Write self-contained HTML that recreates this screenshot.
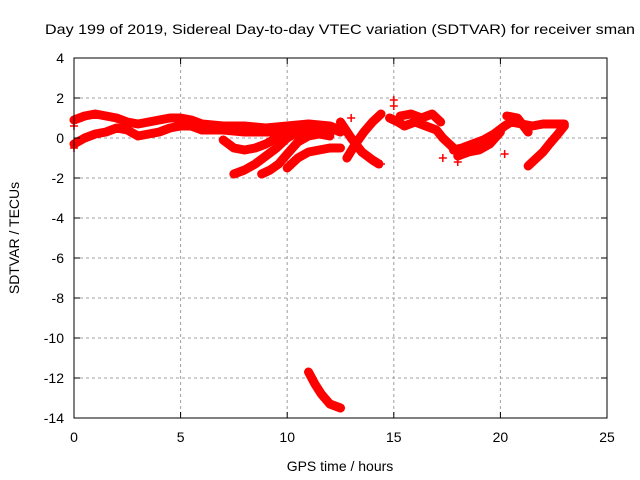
<!DOCTYPE html>
<html><head><meta charset="utf-8"><style>
html,body{margin:0;padding:0;background:#fff;}
svg{display:block;font-family:"Liberation Sans",sans-serif;}
</style></head><body>
<svg id="chart" width="640" height="480" viewBox="0 0 640 480">
<text x="45" y="34" font-size="14" textLength="590" lengthAdjust="spacingAndGlyphs">Day 199 of 2019, Sidereal Day-to-day VTEC variation (SDTVAR) for receiver sman</text>
<g id="grid"></g>
<g id="marks"></g>
<g id="axes"></g>
<text x="340" y="471" font-size="14" text-anchor="middle">GPS time / hours</text>
<text transform="translate(19,238) rotate(-90)" font-size="14" text-anchor="middle">SDTVAR / TECUs</text>
</svg>
<script>
const xTicks=[0,5,10,15,20,25];
const yTicks=[4,2,0,-2,-4,-6,-8,-10,-12,-14];
const track1H=[0,0.5,1,1.5,2,2.5,3,3.5,4,4.5,5,5.5,6,7,8,9,10,11,12,12.5];
const track1V=[0.9,1.1,1.2,1.1,1.0,0.8,0.7,0.8,0.9,1.0,1.0,0.9,0.7,0.6,0.6,0.5,0.6,0.7,0.6,0.4];
const track2H=[0,0.5,1,1.5,2,2.5,3,3.5,4,4.5,5,5.5,6,7,8,9,10,11];
const track2V=[-0.3,0.0,0.2,0.3,0.5,0.4,0.1,0.2,0.3,0.5,0.6,0.6,0.4,0.4,0.3,0.3,0.3,0.2];
const track3H=[7.5,8,8.5,9,9.5,10,10.5,11,11.5,12,12.5];
const track3V=[-1.8,-1.6,-1.3,-0.9,-0.5,0.0,0.3,0.5,0.6,0.5,0.3];
const track4H=[8.8,9.2,9.6,10,10.5,11,11.5,12];
const track4V=[-1.8,-1.6,-1.3,-0.8,-0.2,0.1,0.2,0.1];
const track5H=[10,10.5,11,11.5,12,12.5];
const track5V=[-1.5,-1.0,-0.7,-0.6,-0.5,-0.5];
const track6H=[7,7.5,8,8.5,9,9.5,10,10.5,11];
const track6V=[-0.1,-0.5,-0.6,-0.5,-0.3,0.0,0.3,0.5,0.7];
const track7H=[12.5,13,13.5,14,14.3];
const track7V=[0.8,0.0,-0.7,-1.1,-1.3];
const track8H=[12.8,13.2,13.6,14,14.4];
const track8V=[-1.0,-0.3,0.3,0.8,1.2];
const track9H=[14.8,15.2,15.5,16,16.5,17,17.3,17.6,18];
const track9V=[1.0,0.8,0.6,0.8,0.6,0.4,0.0,-0.3,-0.7];
const track10H=[17.8,18.2,18.7,19.2,19.7,20.2,20.5,21,21.5,22,22.5,23];
const track10V=[-0.6,-0.5,-0.3,-0.1,0.2,0.6,0.8,0.7,0.6,0.7,0.7,0.7];
const track11H=[18,18.5,19,19.5,20];
const track11V=[-0.9,-0.7,-0.6,-0.3,0.3];
const track12H=[23,22.7,22.3,22,21.6,21.3];
const track12V=[0.6,0.2,-0.3,-0.7,-1.1,-1.4];
const track13H=[11,11.3,11.6,12,12.5];
const track13V=[-11.7,-12.3,-12.8,-13.3,-13.5];
const track14H=[15.3,15.8,16.3,16.8,17.2];
const track14V=[1.1,1.2,1.0,1.2,0.8];
const track15H=[20.3,20.8,21.3];
const track15V=[1.1,1.0,0.3];
const pointsH=[15,15,17.3,18,20.2,0,0,13,14.4];
const pointsV=[1.9,1.6,-1.0,-1.2,-0.8,-0.5,0.6,1.0,-1.3];
const tracks=[[track1H,track1V],[track2H,track2V],[track3H,track3V],[track4H,track4V],[track5H,track5V],[track6H,track6V],[track7H,track7V],[track8H,track8V],[track9H,track9V],[track10H,track10V],[track11H,track11V],[track12H,track12V],[track13H,track13V],[track14H,track14V],[track15H,track15V]];

const L=74,R=607,T=58,B=418;
const xs=h=>L+(h-0)/25*(R-L);
const ys=v=>T+(4-v)/18*(B-T);
const NS="http://www.w3.org/2000/svg";
function mk(tag,attrs,parent){const e=document.createElementNS(NS,tag);for(const k in attrs)e.setAttribute(k,attrs[k]);parent.appendChild(e);return e;}
const grid=document.getElementById('grid'),axes=document.getElementById('axes'),marks=document.getElementById('marks');
xTicks.forEach(t=>{
  const x=xs(t);
  if(t>0&&t<25){const g=mk('line',{x1:x,x2:x,y1:T,y2:B,stroke:'#a0a0a0','stroke-dasharray':'3,3'},grid);
  
  }
  mk('line',{x1:x,x2:x,y1:B,y2:B-6,stroke:'#000'},axes);mk('line',{x1:x,x2:x,y1:T,y2:T+6,stroke:'#000'},axes);
  const tx=mk('text',{x:x,y:B+24,'font-size':14,'text-anchor':'middle'},axes);tx.textContent=t;
  
  
});
yTicks.forEach(t=>{
  const y=ys(t);
  if(t<4&&t>-14){const g=mk('line',{x1:L,x2:R,y1:y,y2:y,stroke:'#a0a0a0','stroke-dasharray':'3,3'},grid);
  
  }
  mk('line',{x1:L,x2:L+6,y1:y,y2:y,stroke:'#000'},axes);mk('line',{x1:R,x2:R-6,y1:y,y2:y,stroke:'#000'},axes);
  const tx=mk('text',{x:L-10,y:y+5,'font-size':14,'text-anchor':'end'},axes);tx.textContent=t;
  
  
});
mk('rect',{x:L,y:T,width:R-L,height:B-T,fill:'none',stroke:'#000'},axes);
tracks.forEach((tr,i)=>{
  const pts=tr[0].map((h,j)=>xs(h)+','+ys(tr[1][j])).join(' ');
  const pl=mk('polyline',{points:pts,fill:'none',stroke:'#f00','stroke-width':9,'stroke-linejoin':'round','stroke-linecap':'round'},marks);
  
  
});
function plus(h,v){const x=xs(h),y=ys(v);
  const p=mk('path',{d:`M${x-4},${y}h8M${x},${y-4}v8`,stroke:'#f00','stroke-width':1.5},marks);
  
  }
tracks.forEach(tr=>tr[0].forEach((h,j)=>plus(h,tr[1][j])));
pointsH.forEach((h,j)=>plus(h,pointsV[j]));
</script>
</body></html>
